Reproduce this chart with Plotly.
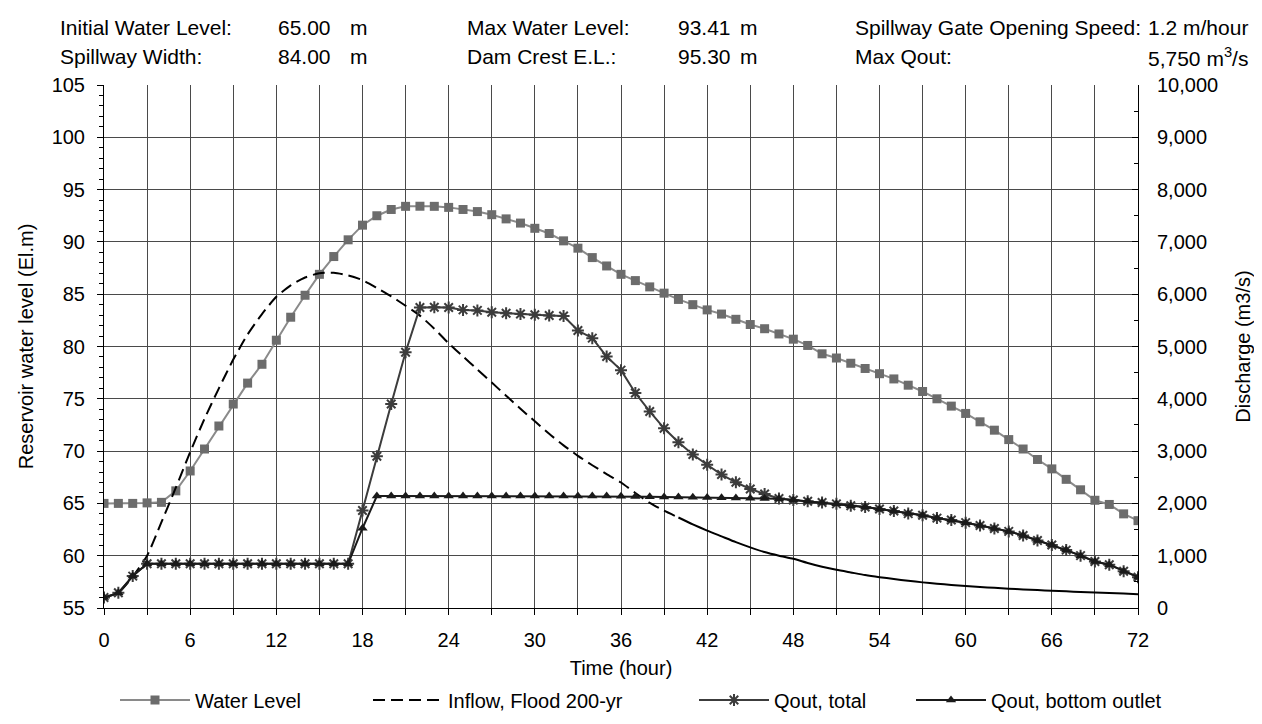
import plotly.graph_objects as go

# ---------------- data ----------------
hours = list(range(0, 73))

water_level = [65.0, 65.0, 65.0, 65.05, 65.1, 66.2, 68.1, 70.2, 72.4, 74.5,
               76.5, 78.3, 80.6, 82.8, 84.9, 86.9, 88.6, 90.2, 91.6, 92.5,
               93.1, 93.4, 93.41, 93.4, 93.3, 93.1, 92.9, 92.6, 92.2, 91.8,
               91.3, 90.8, 90.1, 89.4, 88.5, 87.7, 86.9, 86.3, 85.7, 85.1,
               84.5, 84.0, 83.5, 83.1, 82.6, 82.1, 81.7, 81.2, 80.7, 80.1,
               79.3, 78.9, 78.4, 77.9, 77.4, 76.9, 76.3, 75.7, 75.0, 74.3,
               73.6, 72.8, 72.0, 71.1, 70.2, 69.2, 68.3, 67.3, 66.3, 65.3,
               64.9, 64.0, 63.35]

inflow = [200, 290, 600, 1000, 1640, 2300, 2980, 3620, 4200, 4750,
          5230, 5620, 5950, 6170, 6320, 6400, 6410, 6360, 6270, 6120,
          5960, 5780, 5590, 5340, 5060, 4810, 4560, 4310, 4060, 3810,
          3570, 3330, 3110, 2910, 2730, 2560, 2400, 2200, 2010, 1860,
          1730, 1600, 1480, 1370, 1260, 1160, 1070, 1000, 940, 860,
          790, 730, 680, 630, 590, 555, 520, 490, 465, 440,
          420, 400, 385, 370, 355, 342, 330, 318, 306, 295,
          285, 275, 265]

qout_total = [200, 290, 610, 845, 845, 845, 845, 845, 845, 845,
              845, 845, 845, 845, 845, 845, 845, 845, 1865, 2900,
              3900, 4890, 5745, 5750, 5745, 5700, 5690, 5655, 5637, 5620,
              5606, 5594, 5582, 5305, 5160, 4808, 4548, 4110, 3758, 3436,
              3170, 2936, 2738, 2552, 2404, 2274, 2180, 2095, 2065, 2040,
              2016, 1991, 1954, 1929, 1892, 1855, 1805, 1774, 1719, 1682,
              1632, 1577, 1521, 1465, 1385, 1292, 1206, 1107, 1001, 890,
              828, 704, 590]

qout_bottom = [200, 290, 610, 845, 845, 845, 845, 845, 845, 845,
               845, 845, 845, 845, 845, 845, 845, 845, 1525, 2140,
               2140, 2140, 2140, 2140, 2140, 2140, 2140, 2140, 2140, 2140,
               2140, 2140, 2140, 2140, 2140, 2140, 2136, 2132, 2128, 2124,
               2120, 2116, 2112, 2108, 2104, 2100, 2096, 2090, 2065, 2040,
               2016, 1991, 1954, 1929, 1892, 1855, 1805, 1774, 1719, 1682,
               1632, 1577, 1521, 1465, 1385, 1292, 1206, 1107, 1001, 890,
               828, 704, 590]

x_tick_vals = [0, 6, 12, 18, 24, 30, 36, 42, 48, 54, 60, 66, 72]
x_tick_labels = ["0", "6", "12", "18", "24", "30", "36", "42", "48", "54", "60", "66", "72"]

header_labels = ["Initial Water Level:", "Max Water Level:", "Spillway Gate Opening Speed:",
                 "Spillway Width:", "Dam Crest E.L.:", "Max Qout:"]
header_values = ["65.00", "93.41", "1.2 m/hour",
                 "84.00", "95.30", "5,750 m<sup>3</sup>/s"]
header_units = ["m", "m", "", "m", "m", ""]

series_names = ["Water Level", "Inflow, Flood 200-yr", "Qout, total", "Qout, bottom outlet"]

# dashed part of inflow / solid tail (as drawn in the original)
split = 40

# ---------------- figure ----------------
FONT = "Liberation Sans, Arial, sans-serif"
fig = go.Figure()

fig.add_trace(go.Scatter(
    x=hours, y=water_level, name=series_names[0], mode="lines+markers",
    line=dict(color="#8a8a8a", width=2),
    marker=dict(symbol="square", size=9, color="#6c6c6c"),
    yaxis="y", legend="legend"))

fig.add_trace(go.Scatter(
    x=hours[:split + 1], y=inflow[:split + 1], name=series_names[1], mode="lines",
    line=dict(color="black", width=2, dash="12px,6px", shape="spline", smoothing=0.6),
    yaxis="y2", legend="legend2"))

fig.add_trace(go.Scatter(
    x=hours[split:], y=inflow[split:], name=series_names[1], mode="lines",
    line=dict(color="black", width=2, shape="spline", smoothing=0.6),
    showlegend=False, yaxis="y2"))

fig.add_trace(go.Scatter(
    x=hours, y=qout_total, name=series_names[2], mode="lines+markers",
    line=dict(color="#3c3c3c", width=2),
    marker=dict(symbol="asterisk-open", size=10, color="#3c3c3c",
                line=dict(color="#3c3c3c", width=2)),
    yaxis="y2", legend="legend3"))

fig.add_trace(go.Scatter(
    x=hours, y=qout_bottom, name=series_names[3], mode="lines+markers",
    line=dict(color="#1a1a1a", width=2),
    marker=dict(symbol="triangle-up", size=9, color="#1a1a1a"),
    yaxis="y2", legend="legend4"))

L, R, T, B = 96, 132, 77, 107
W, H = 1262, 724
pw, ph = W - L - R, H - T - B


def px_to_paper_x(px):
    return (px - L) / pw


def px_to_paper_y(py):
    return (H - B - py) / ph


annotations = []
label_x = [50, 457, 845]
value_x = [268, 668, 1138]
unit_x = [340, 730, None]
row_y = [18, 48]
for i in range(6):
    r, c = divmod(i, 3)
    yy = px_to_paper_y(row_y[r])
    annotations.append(dict(text=header_labels[i], x=px_to_paper_x(label_x[c]), y=yy,
                            xref="paper", yref="paper", xanchor="left", yanchor="middle",
                            showarrow=False, font=dict(size=21, family=FONT, color="black")))
    annotations.append(dict(text=header_values[i], x=px_to_paper_x(value_x[c]), y=yy,
                            xref="paper", yref="paper", xanchor="left", yanchor="middle",
                            showarrow=False, font=dict(size=21, family=FONT, color="black")))
    if header_units[i]:
        annotations.append(dict(text=header_units[i], x=px_to_paper_x(unit_x[c]), y=yy,
                                xref="paper", yref="paper", xanchor="left", yanchor="middle",
                                showarrow=False, font=dict(size=21, family=FONT, color="black")))

legend_line_starts = [114, 367, 693, 910]
legend_y_px = 712


def legend_box(px):
    return dict(orientation="h", x=px_to_paper_x(px - 7), xanchor="left",
                y=px_to_paper_y(legend_y_px), yanchor="middle",
                font=dict(size=20, family=FONT, color="black"), itemwidth=70,
                bgcolor="rgba(0,0,0,0)", borderwidth=0)


GRID = "#4a4a4a"
fig.update_layout(
    width=W, height=H, autosize=False,
    margin=dict(l=L, r=R, t=T, b=B, pad=0),
    paper_bgcolor="white", plot_bgcolor="white",
    font=dict(family=FONT, size=20, color="black"),
    showlegend=True,
    legend=legend_box(legend_line_starts[0]),
    legend2=legend_box(legend_line_starts[1]),
    legend3=legend_box(legend_line_starts[2]),
    legend4=legend_box(legend_line_starts[3]),
    xaxis=dict(range=[0, 72], tickmode="array", tickvals=x_tick_vals, ticktext=x_tick_labels,
               showgrid=True, gridcolor=GRID, gridwidth=1, zeroline=False,
               ticks="outside", ticklen=6, tickcolor="black", tickwidth=1,
               minor=dict(dtick=3, tick0=0, showgrid=True, gridcolor=GRID, gridwidth=1,
                          ticks="outside", ticklen=6, tickcolor="black"),
               showline=True, linecolor="black", linewidth=1,
               ticklabelstandoff=8,
               title=dict(text="Time (hour)", standoff=10, font=dict(size=20))),
    yaxis=dict(range=[55, 105], tick0=55, dtick=5, showgrid=True, gridcolor=GRID, gridwidth=1,
               zeroline=False, ticks="outside", ticklen=6, tickcolor="black", tickwidth=1,
               minor=dict(dtick=1, tick0=55, ticks="outside", ticklen=4, tickcolor="black",
                          showgrid=False),
               showline=True, linecolor="black", linewidth=1,
               ticklabelstandoff=8,
               title=dict(text="Reservoir water level (El.m)", standoff=12, font=dict(size=20))),
    yaxis2=dict(range=[0, 10000], tick0=0, dtick=1000, overlaying="y", side="right",
                tickformat=",d", showgrid=False, zeroline=False,
                ticks="inside", ticklen=6, tickcolor="black", tickwidth=1,
                minor=dict(dtick=500, tick0=0, ticks="inside", ticklen=4, tickcolor="black",
                           showgrid=False),
                showline=True, linecolor="black", linewidth=1,
                ticklabelstandoff=14,
                title=dict(text="Discharge (m3/s)", standoff=18, font=dict(size=20))),
    annotations=annotations,
)

fig.write_html("out.html")
